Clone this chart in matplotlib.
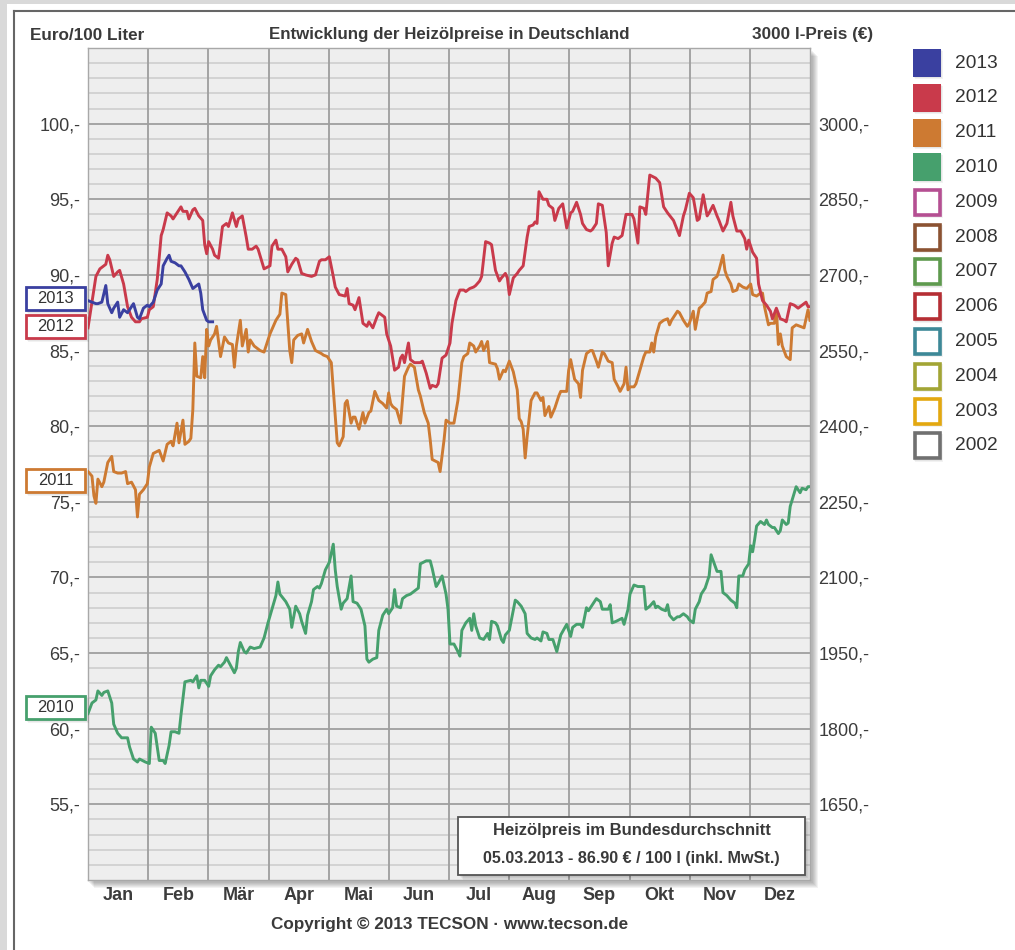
import numpy as np
import matplotlib.pyplot as plt
from matplotlib.patches import Rectangle
from matplotlib.lines import Line2D

plt.rcParams['font.family'] = ['Liberation Sans', 'DejaVu Sans']

# x = day of year (chart uses 12 equal-width months), y = Euro / 100 Liter
months = ['Jan', 'Feb', 'Mär', 'Apr', 'Mai', 'Jun', 'Jul', 'Aug', 'Sep', 'Okt', 'Nov', 'Dez']

d2013 = [0, 2, 4, 5, 7, 9, 10, 12, 13, 15, 16, 18, 20, 21, 23, 25, 26, 28, 30, 31,
         33, 35, 37, 38, 40, 41, 42, 44, 46, 47, 49, 51, 53, 54, 56, 57, 58, 60, 61, 63]
p2013 = [88.3, 88.2, 88.1, 88.1, 88.2, 89.3, 88.1, 87.5, 87.8, 88.2, 87.2, 87.7, 87.5, 87.7, 88.1,
         87.2, 87.1, 87.8, 88.0, 87.9, 88.2, 89.0, 89.4, 90.6, 91.1, 91.3, 90.9, 90.8, 90.6, 90.6,
         90.2, 89.7, 89.1, 89.2, 89.4, 88.8, 87.7, 87.0, 86.9, 86.9]

d2012 = [0, 4, 6, 9, 10, 11, 13, 15, 16, 18, 20, 22, 24, 26, 27, 30, 31, 33, 35, 37,
         38, 40, 42, 43, 45, 47, 48, 50, 51, 53, 54, 56, 58, 59, 60, 61, 63, 64, 66, 68,
         70, 71, 73, 75, 76, 78, 80, 81, 83, 85, 86, 89, 92, 93, 95, 96, 98, 100, 101, 103,
         105, 106, 108, 110, 113, 115, 117, 118, 120, 122, 124, 125, 127, 130, 131, 132, 134, 135, 137, 139,
         141, 142, 144, 146, 147, 150, 151, 153, 155, 157, 158, 159, 160, 162, 163, 165, 168, 169, 171, 173,
         174, 176, 177, 179,
         181, 183, 184, 186, 188, 190, 191, 193, 195, 196, 198, 199, 201, 203, 204, 206, 208, 209, 211, 212,
         213, 215, 217, 218, 220, 222, 223, 225, 226, 227, 228, 230, 232, 233, 235, 236, 238, 240, 241, 242,
         244, 245, 247, 249, 250, 252, 254, 255, 257, 258, 260, 262, 263, 265, 266, 268, 270, 272, 275, 276,
         278, 279, 281, 282, 284, 287, 289, 291, 293, 296, 299, 301, 302, 304, 306, 308, 309, 311, 313, 314,
         316, 318, 319, 321, 323, 325, 326, 328, 330, 332, 333, 334, 336, 338, 339, 341, 343, 345, 346, 348,
         350, 352, 353, 355, 357, 359, 363, 364, 365]
p2012 = [86.5, 89.9, 90.4, 90.7, 91.3, 91.0, 89.9, 90.2, 90.3, 89.4, 87.9, 87.2, 86.9, 86.9, 87.1, 87.2, 87.7, 87.9, 89.7, 92.6,
         93.0, 94.1, 93.9, 93.7, 94.1, 94.5, 94.2, 94.2, 93.7, 94.3, 94.4, 93.9, 93.6, 92.0, 91.4, 92.2, 91.7, 91.3, 91.1, 93.2,
         93.4, 93.2, 94.1, 93.2, 93.7, 93.9, 92.5, 91.7, 91.7, 91.9, 91.7, 90.4, 90.6, 91.9, 92.3, 91.7, 91.7, 91.2, 90.2, 90.7,
         91.1, 91.0, 90.1, 90.0, 89.9, 90.0, 90.9, 91.0, 91.0, 91.2, 89.9, 89.2, 88.7, 88.6, 89.1, 88.1, 88.0, 87.7, 88.5, 86.8,
         86.6, 86.9, 86.5, 87.2, 87.5, 87.2, 86.1, 85.3, 83.7, 83.9, 84.5, 84.7, 84.2, 85.5, 84.4, 84.2, 84.2, 84.3, 83.5, 82.5,
         82.7, 82.6, 82.8, 84.5,
         84.7, 85.5, 86.8, 88.3, 89.0, 89.0, 88.9, 89.1, 89.2, 89.3, 89.6, 89.9, 92.2, 92.1, 92.0, 90.3, 89.6, 89.8, 90.1, 89.8,
         88.7, 89.8, 90.1, 90.3, 90.6, 92.5, 93.2, 93.3, 93.5, 93.4, 95.5, 95.0, 95.0, 94.6, 94.4, 93.6, 94.4, 94.7, 93.9, 93.1,
         94.1, 94.2, 94.8, 94.0, 93.4, 93.0, 92.9, 93.0, 93.4, 94.7, 94.6, 92.8, 90.6, 92.1, 92.5, 92.4, 92.6, 94.0, 94.0, 93.7,
         92.1, 94.5, 94.4, 94.0, 96.6, 96.4, 96.1, 94.5, 94.1, 93.6, 92.6, 93.9, 94.3, 95.4, 95.1, 93.6, 93.7, 95.3, 93.9, 94.1,
         94.6, 93.9, 93.6, 92.9, 93.4, 94.8, 93.9, 92.9, 92.9, 92.4, 91.7, 92.3, 91.5, 91.1, 89.4, 88.3, 88.0, 87.6, 87.1, 87.8,
         87.1, 87.0, 86.9, 88.1, 88.0, 87.8, 88.2, 87.9, 87.9]

d2011 = [0, 2, 3, 4, 5, 7, 8, 10, 12, 13, 15, 17, 19, 20, 22, 24, 25, 26, 28, 30,
         31, 33, 36, 38, 40, 42, 43, 45, 46, 48, 49, 51, 52, 53, 54, 55, 57, 58, 59, 60,
         61, 62, 64, 65, 67, 69, 71, 73, 74, 75, 77, 78, 80, 81, 82, 84, 85, 87, 89, 91,
         92, 93, 95, 97, 98, 100, 102, 103, 104, 106, 108, 109, 111, 113, 115, 118, 119, 121, 123, 124,
         126, 127, 129, 130, 131, 133, 134, 135, 137, 139, 140, 142, 143, 145, 147, 149, 151, 152, 153, 154,
         156, 158, 160, 162, 163, 165, 167, 168, 170, 172, 173, 174, 177, 178, 180,
         181, 183, 185, 187, 189, 190, 192, 193, 195, 196, 198, 199, 200, 202, 203, 206, 207, 208, 210, 211,
         213, 215, 217, 218, 219, 220, 221, 222, 224, 226, 227, 229, 230, 231, 233, 234, 236, 238, 239, 242,
         243, 244, 246, 248, 249, 250, 252, 254, 255, 257, 258, 260, 261, 263, 265, 266, 268, 269, 271, 272,
         273, 274, 276, 277, 279, 281, 282, 284, 285, 286, 287, 289, 291, 293, 294, 295, 296, 298, 299, 301,
         303, 304, 306, 307, 309, 310, 312, 313, 315, 316, 318, 319, 321, 322, 323, 325, 326, 328, 329, 331,
         333, 335, 336, 338, 340, 341, 342, 344, 345, 347, 348, 349, 350, 351, 353, 355, 356, 358, 360, 362,
         363, 364, 365]
p2011 = [77.0, 76.7, 75.4, 74.9, 76.5, 76.0, 76.3, 77.6, 78.0, 77.0, 76.9, 76.9, 77.0, 76.2, 76.3, 75.8, 74.0, 75.5, 75.8, 76.2,
         77.3, 78.2, 78.4, 77.7, 78.8, 79.0, 78.7, 80.2, 78.9, 80.4, 78.8, 79.0, 79.2, 81.1, 85.5, 83.3, 83.2, 84.6, 83.2, 86.4,
         85.3, 85.7, 86.1, 86.6, 84.6, 85.9, 85.5, 85.4, 83.9, 85.3, 87.0, 85.3, 86.4, 84.9, 85.7, 85.3, 85.2, 85.0, 84.9, 85.7,
         86.1, 86.4, 87.0, 87.4, 88.8, 88.7, 85.0, 84.2, 85.7, 86.0, 86.1, 85.5, 86.4, 85.6, 85.0, 84.8, 84.7, 84.6, 84.2, 82.4,
         78.9, 78.7, 79.3, 81.5, 81.7, 80.2, 80.6, 80.6, 79.8, 80.9, 80.2, 80.9, 81.0, 82.3, 81.7, 81.5, 81.2, 82.2, 81.5, 81.3,
         81.1, 80.2, 83.3, 83.9, 84.1, 83.9, 82.4, 82.0, 80.9, 80.2, 79.1, 77.8, 77.6, 77.0, 79.1,
         80.4, 80.2, 80.2, 81.7, 84.2, 84.6, 84.8, 85.5, 85.3, 84.9, 85.3, 85.6, 85.0, 85.6, 84.2, 84.1, 83.8, 83.1, 83.7, 83.6,
         84.3, 83.6, 82.4, 80.5, 80.3, 79.8, 77.9, 79.3, 81.7, 82.2, 82.2, 81.7, 81.9, 80.7, 81.3, 80.6, 81.2, 82.0, 82.3, 82.3,
         83.7, 84.4, 83.1, 82.8, 81.9, 83.7, 84.8, 85.0, 85.0, 84.3, 83.9, 84.9, 84.8, 84.3, 84.2, 83.1, 82.6, 82.3, 82.8, 83.9,
         82.4, 82.6, 82.6, 82.8, 83.7, 84.6, 84.9, 84.9, 85.5, 84.9, 85.9, 86.8, 87.0, 87.1, 86.7, 87.0, 87.2, 87.6, 87.5, 87.0,
         86.6, 86.8, 87.6, 86.4, 87.8, 87.9, 88.2, 88.8, 88.9, 89.7, 89.9, 90.3, 91.3, 90.3, 89.9, 89.4, 88.9, 89.0, 89.4, 89.2,
         89.1, 89.4, 88.7, 88.6, 88.8, 88.8, 87.9, 86.7, 86.8, 86.8, 87.7, 85.4, 86.1, 85.3, 84.6, 84.4, 86.5, 86.7, 86.6, 86.5,
         87.1, 87.7, 87.0]

d2010 = [0, 2, 4, 5, 7, 8, 10, 12, 13, 15, 17, 20, 21, 23, 25, 26, 29, 31, 32, 34,
         35, 36, 38, 39, 41, 42, 44, 46, 47, 49, 52, 53, 55, 56, 57, 59, 61, 62, 64, 66,
         67, 69, 70, 72, 74, 75, 76, 77, 79, 80, 82, 84, 87, 89, 91, 93, 95, 96, 97, 100,
         102, 103, 105, 107, 108, 110, 111, 113, 114, 116, 117, 118, 120, 122, 124, 125, 126, 128, 129, 131,
         133, 134, 136, 138, 140, 141, 142, 144, 146, 147, 149, 151, 152, 154, 155, 156, 158, 159, 161, 163,
         165, 167, 168, 171, 173, 174, 176, 177, 179, 181,
         182, 183, 185, 187, 188, 189, 191, 193, 194, 195, 196, 198, 200, 201, 202, 203, 204, 206, 207, 209,
         210, 211, 213, 216, 217, 219, 221, 222, 224, 226, 227, 229, 230, 232, 233, 235, 237, 239, 242, 244,
         245, 247, 249, 250, 252, 253, 255, 257, 259, 260, 262, 263, 264, 265, 267, 270, 271, 273, 274, 276,
         278, 281, 282, 284, 286, 287, 288, 290, 292, 293, 294, 296, 298, 299, 301, 303, 304, 306, 307, 309,
         310, 312, 314, 315, 318, 320, 321, 323, 325, 327, 328, 329, 331, 332, 334, 335, 336, 337, 338, 340,
         342, 343, 344, 346, 347, 349, 350, 351, 353, 354, 355, 358, 359, 360, 361, 363, 364, 365]
p2010 = [61.0, 61.7, 61.9, 62.5, 62.2, 62.4, 62.5, 61.7, 60.3, 59.7, 59.4, 59.4, 58.8, 58.0, 57.8, 58.0, 57.8, 57.7, 60.1, 59.7,
         58.8, 57.9, 57.9, 57.7, 58.9, 59.8, 59.8, 59.7, 60.9, 63.1, 63.2, 63.1, 63.5, 62.7, 63.2, 63.2, 62.8, 63.5, 63.9, 64.2,
         64.1, 64.4, 64.7, 64.2, 63.7, 64.0, 65.1, 65.7, 65.1, 65.0, 65.4, 65.3, 65.4, 66.0, 67.0, 67.9, 68.8, 69.7, 68.9, 68.4,
         67.9, 66.7, 68.1, 67.6, 67.1, 66.3, 67.5, 68.4, 69.2, 69.4, 69.3, 69.6, 70.5, 71.0, 72.2, 70.5, 69.4, 67.9, 68.3, 68.6,
         70.1, 68.4, 68.3, 67.9, 66.8, 64.6, 64.4, 64.6, 64.7, 66.5, 67.5, 67.9, 67.6, 68.0, 69.2, 68.1, 68.0, 68.6, 68.8, 68.9,
         69.1, 69.3, 70.9, 71.1, 71.1, 70.6, 69.4, 69.6, 70.1, 68.9,
         67.9, 65.6, 65.6, 65.1, 64.8, 66.5, 67.0, 67.3, 66.5, 67.6, 66.8, 66.0, 65.9, 66.1, 66.3, 65.9, 67.1, 67.0, 66.8, 65.9,
         65.7, 66.2, 66.5, 68.5, 68.4, 68.1, 67.6, 66.3, 66.0, 65.9, 66.0, 65.8, 66.4, 66.3, 65.9, 65.9, 65.1, 66.2, 66.9, 66.1,
         66.7, 66.9, 66.9, 66.7, 68.0, 67.8, 68.2, 68.6, 68.4, 67.9, 67.9, 67.9, 68.2, 67.0, 67.1, 67.3, 66.9, 67.9, 68.9, 69.5,
         69.4, 69.4, 67.9, 68.1, 68.4, 68.0, 68.1, 67.9, 67.8, 68.2, 67.5, 67.2, 67.4, 67.4, 67.6, 67.4, 67.2, 67.0, 67.9, 68.4,
         68.9, 69.3, 70.1, 71.5, 70.4, 70.4, 69.0, 68.8, 68.5, 68.3, 68.0, 70.1, 70.1, 70.5, 70.9, 72.1, 71.7, 72.5, 73.4, 73.7,
         73.5, 73.8, 73.5, 73.3, 73.3, 72.9, 73.1, 73.8, 73.5, 73.6, 74.7, 76.0, 75.8, 75.6, 75.9, 75.8, 76.0, 76.0]

years = ['2013', '2012', '2011', '2010', '2009', '2008', '2007', '2006', '2005', '2004', '2003', '2002']
year_colors = ['#3a40a0', '#c93a4b', '#cd7a32', '#46a06d', '#b54f92', '#8b5232', '#5e9a4e',
               '#b52e34', '#3d8897', '#a2a535', '#e3a810', '#707070']
shown = 4  # 2013..2010 are drawn

W, H = 1015, 950
fig = plt.figure(figsize=(W / 100, H / 100), dpi=100)
fig.patch.set_facecolor('#d9d9d9')


def fx(x):
    return x / W


def fy(y):
    return 1 - y / H


def box(x0, y0, x1, y1, **kw):
    r = Rectangle((fx(x0), fy(y1)), fx(x1) - fx(x0), fy(y0) - fy(y1),
                  transform=fig.transFigure, **kw)
    fig.add_artist(r)
    return r


def shadow(x0, y0, x1, y1, n=4, z=1):
    for i in range(1, n + 1):
        box(x0 + i, y0 + i, x1 + i, y1 + i, fc='black', ec='none', alpha=0.05, zorder=z)


# white panel with dark frame
box(7, 4, W + 10, H + 10, fc='white', ec='none', zorder=-3)
fig.add_artist(Line2D([fx(14), fx(14)], [fy(11), 0], color='#666666', lw=1.5, zorder=-2))
fig.add_artist(Line2D([fx(14), 1], [fy(11), fy(11)], color='#666666', lw=1.5, zorder=-2))

# plot area
shadow(88, 50, 812, 882, n=6, z=-1)
ax = fig.add_axes([fx(88), fy(880), fx(810) - fx(88), fy(48) - fy(880)])
ax.set_zorder(2)
ax.set_facecolor('#eeeeee')
ax.set_xlim(0, 365)
ax.set_ylim(50, 105)

for v in range(51, 105):
    if v % 5 == 0:
        ax.axhline(v, color='#a4a4a4', lw=1.4, zorder=1)
    else:
        ax.axhline(v, color='#d3d3d3', lw=1.4, zorder=0.8)
month_w = 365 / 12
for i in range(1, 12):
    ax.axvline(i * month_w, color='#9e9e9e', lw=1.3, zorder=1.2)

for sp in ax.spines.values():
    sp.set_color('#a8a8a8')
    sp.set_linewidth(1)

ax.plot(d2010, p2010, color=year_colors[3], lw=2.1, zorder=3, solid_joinstyle='round')
ax.plot(d2011, p2011, color=year_colors[2], lw=2.1, zorder=3, solid_joinstyle='round')
ax.plot(d2012, p2012, color=year_colors[1], lw=2.1, zorder=3, solid_joinstyle='round')
ax.plot(d2013, p2013, color=year_colors[0], lw=2.1, zorder=4, solid_joinstyle='round')

ax.set_yticks(range(55, 101, 5))
ax.set_yticklabels([f'{v},-' for v in range(55, 101, 5)])
ax.set_xticks([(i + 0.5) * month_w for i in range(12)])
ax.set_xticklabels(months, fontweight='bold')
ax.tick_params(axis='y', length=0, pad=5.5, labelsize=13, labelcolor='#3c3c3c')
ax.tick_params(axis='x', length=0, pad=5, labelsize=13, labelcolor='#3c3c3c')

ax2 = ax.twinx()
ax2.set_zorder(3)
ax2.patch.set_visible(False)
ax2.set_ylim(50 * 30, 105 * 30)
ax2.set_yticks(range(1650, 3001, 150))
ax2.set_yticklabels([f'{v},-' for v in range(1650, 3001, 150)])
ax2.tick_params(axis='y', length=0, pad=6, labelsize=13, labelcolor='#3c3c3c')
for sp in ax2.spines.values():
    sp.set_visible(False)

# titles
tc = '#3a3a3a'
fig.text(fx(30), fy(35), 'Euro/100 Liter', fontsize=12.3, fontweight='bold', color=tc, va='center')
fig.text(fx(449), fy(35), 'Entwicklung der Heizölpreise in Deutschland', fontsize=12.2,
         fontweight='bold', color=tc, va='center', ha='center')
fig.text(fx(873), fy(35), '3000 l-Preis (€)', fontsize=12.3, fontweight='bold', color=tc,
         va='center', ha='right')
fig.text(fx(450), fy(925), 'Copyright © 2013 TECSON · www.tecson.de', fontsize=12.3,
         fontweight='bold', color=tc, va='center', ha='center')

# legend on the right
for i, (yr, col) in enumerate(zip(years, year_colors)):
    yc = 63 + i * 34.8
    shadow(913, yc - 14, 941, yc + 14, n=2, z=1)
    if i < shown:
        box(913, yc - 14, 941, yc + 14, fc=col, ec='none', zorder=2)
    else:
        box(914.5, yc - 12.5, 939.5, yc + 12.5, fc='white', ec=col, lw=2.6, zorder=2)
    fig.text(fx(955), fy(yc), yr, fontsize=13.8, color='#333333', va='center')

# year labels at the start of each line
start_boxes = [('2013', 286, year_colors[0]), ('2012', 314, year_colors[1]),
               ('2011', 468, year_colors[2]), ('2010', 695, year_colors[3])]
for yr, top, col in start_boxes:
    shadow(25, top, 86, top + 25, n=3, z=5)
    box(26, top + 1, 85, top + 24, fc='white', ec=col, lw=2, zorder=6)
    fig.text(fx(55.5), fy(top + 12.5), yr, fontsize=11.9, color='#333333',
             ha='center', va='center', zorder=7)

# info box
shadow(458, 817, 805, 875, n=5, z=5)
box(458, 817, 805, 875, fc='white', ec='#555555', lw=1.3, zorder=6)
fig.text(fx(631.5), fy(830), 'Heizölpreis im Bundesdurchschnitt', fontsize=12,
         fontweight='bold', color=tc, ha='center', va='center', zorder=7)
fig.text(fx(631.5), fy(859), '05.03.2013 - 86.90 € / 100 l (inkl. MwSt.)', fontsize=11.6,
         fontweight='bold', color=tc, ha='center', va='center', zorder=7)

fig.savefig('out.png', dpi=100)
